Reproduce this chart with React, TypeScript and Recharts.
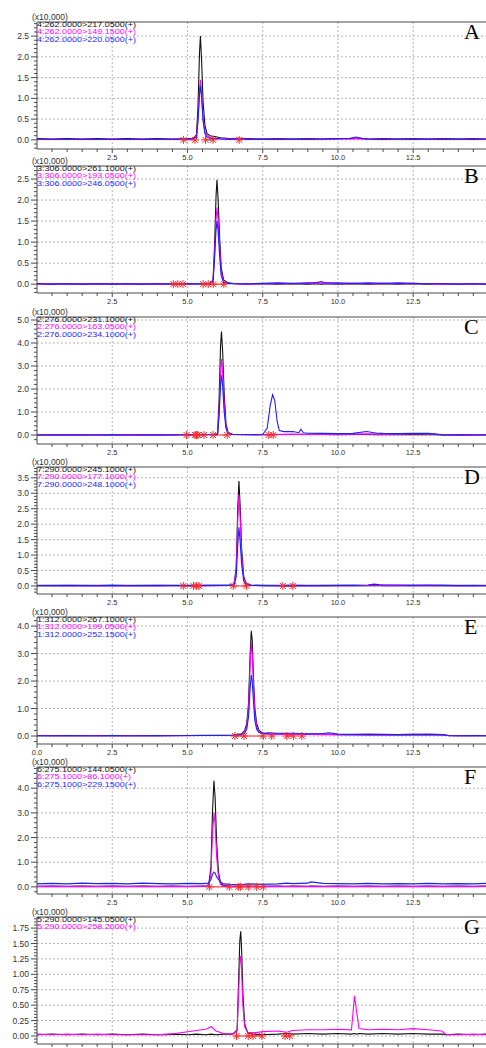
import React from 'react';
import { ComposedChart, Line, XAxis, YAxis, CartesianGrid, ReferenceLine } from 'recharts';

// retention time axis (min)
const X_MAX = 14.92;
const X_TICKS = [0.5, 1, 1.5, 2, 2.5, 3, 3.5, 4, 4.5, 5, 5.5, 6, 6.5, 7, 7.5, 8, 8.5, 9, 9.5, 10, 10.5, 11, 11.5, 12, 12.5, 13, 13.5, 14, 14.5];
const X_TICKS_E = [0, ...X_TICKS];
const X_LABELS = [2.5, 5, 7.5, 10, 12.5];
const X_LABELS_E = [0, 2.5, 5, 7.5, 10, 12.5];
const X_LABELS_G: number[] = []; // labels of the last panel fall below the page

// ---- A ----
const NAMES_A = ['4:262.0000>217.0500(+)', '4:262.0000>149.1500(+)', '4:262.0000>220.0500(+)'];
const T_A = [0, 0.5, 1, 1.5, 2, 2.5, 3, 3.5, 4, 4.5, 5, 5.2, 5.3, 5.35, 5.4, 5.43, 5.47, 5.52, 5.58, 5.65, 5.75, 5.9, 6.1, 6.4, 6.7, 7, 7.5, 8, 8.5, 9, 9.5, 10, 10.4, 10.6, 10.8, 11, 11.5, 12, 12.5, 13, 13.5, 14, 14.5, 14.92];
const K_A = [0.03, 0.02, 0.03, 0.02, 0.03, 0.02, 0.03, 0.02, 0.03, 0.02, 0.03, 0.04, 0.12, 0.8, 2.1, 2.5, 1.9, 0.9, 0.35, 0.15, 0.1, 0.08, 0.05, 0.03, 0.04, 0.03, 0.02, 0.03, 0.02, 0.03, 0.02, 0.03, 0.03, 0.04, 0.03, 0.02, 0.03, 0.02, 0.03, 0.02, 0.03, 0.02, 0.03, 0.02];
const M_A = [0.01, 0.02, 0.01, 0.02, 0.01, 0.02, 0.01, 0.02, 0.01, 0.02, 0.02, 0.03, 0.08, 0.5, 1.2, 1.45, 1.1, 0.5, 0.2, 0.1, 0.06, 0.04, 0.03, 0.02, 0.03, 0.02, 0.01, 0.02, 0.01, 0.02, 0.01, 0.02, 0.02, 0.03, 0.02, 0.01, 0.02, 0.01, 0.02, 0.01, 0.02, 0.01, 0.02, 0.01];
const B_A = [0.02, 0.01, 0.02, 0.01, 0.02, 0.01, 0.02, 0.01, 0.02, 0.01, 0.02, 0.03, 0.06, 0.45, 1.1, 1.3, 1.0, 0.45, 0.15, 0.06, 0.04, 0.03, 0.02, 0.01, 0.02, 0.01, 0.02, 0.01, 0.02, 0.01, 0.02, 0.03, 0.04, 0.07, 0.04, 0.02, 0.01, 0.02, 0.01, 0.02, 0.01, 0.02, 0.01, 0.02];
const MK_A = [4.87, 5.25, 5.6, 5.85, 6.72];
const SEG_A = [[4.87, 5.25], [5.6, 5.85]];
const Y_MAJOR_A = [0, 0.5, 1, 1.5, 2, 2.5];

// ---- B ----
const NAMES_B = ['3:306.0000>261.1000(+)', '3:306.0000>193.0500(+)', '3:306.0000>246.0500(+)'];
const T_B = [0, 0.5, 1, 1.5, 2, 2.5, 3, 3.5, 4, 4.5, 5, 5.5, 5.75, 5.85, 5.9, 5.95, 5.98, 6.02, 6.07, 6.12, 6.2, 6.35, 6.6, 7, 7.5, 8, 8.5, 9, 9.3, 9.45, 9.6, 10, 10.5, 11, 11.5, 12, 12.5, 13, 13.5, 14, 14.5, 14.92];
const K_B = [0.01, 0.0, 0.01, 0.0, 0.01, 0.0, 0.01, 0.0, 0.01, 0.0, 0.01, 0.01, 0.02, 0.1, 0.9, 2.1, 2.48, 2.0, 1.1, 0.4, 0.1, 0.03, 0.01, 0.0, 0.01, 0.0, 0.01, 0.0, 0.01, 0.0, 0.01, 0.0, 0.01, 0.0, 0.01, 0.0, 0.01, 0.0, 0.01, 0.0, 0.01, 0.0];
const M_B = [0.0, 0.01, 0.0, 0.01, 0.0, 0.01, 0.0, 0.01, 0.0, 0.01, 0.0, 0.01, 0.02, 0.08, 0.7, 1.55, 1.82, 1.5, 0.85, 0.3, 0.06, 0.02, 0.01, 0.0, 0.01, 0.02, 0.01, 0.02, 0.03, 0.02, 0.02, 0.01, 0.02, 0.01, 0.02, 0.01, 0.02, 0.01, 0.0, 0.01, 0.0, 0.01];
const B_B = [0.01, 0.0, 0.01, 0.0, 0.01, 0.0, 0.01, 0.0, 0.01, 0.0, 0.01, 0.0, 0.02, 0.06, 0.6, 1.3, 1.5, 1.25, 0.65, 0.2, 0.04, 0.02, 0.01, 0.01, 0.02, 0.03, 0.02, 0.03, 0.04, 0.06, 0.03, 0.03, 0.02, 0.03, 0.02, 0.03, 0.02, 0.01, 0.01, 0.0, 0.01, 0.0];
const MK_B = [4.53, 4.68, 4.85, 5.52, 5.69, 5.86, 6.21];
const SEG_B = [[4.53, 4.85], [5.52, 6.25]];
const Y_MAJOR_B = [0, 0.5, 1, 1.5, 2, 2.5];

// ---- C ----
const NAMES_C = ['2:276.0000>231.1000(+)', '2:276.0000>163.0500(+)', '2:276.0000>234.1000(+)'];
const T_C = [0, 0.5, 1, 1.5, 2, 2.5, 3, 3.5, 4, 4.5, 5, 5.5, 5.9, 6.0, 6.05, 6.1, 6.13, 6.17, 6.22, 6.28, 6.35, 6.5, 7, 7.5, 7.65, 7.75, 7.83, 7.9, 7.98, 8.05, 8.2, 8.5, 8.7, 8.77, 8.85, 9, 9.5, 10, 10.5, 10.95, 11.3, 11.5, 12, 12.5, 13, 13.2, 13.5, 14, 14.5, 14.92];
const K_C = [0.0, 0.01, 0.0, 0.01, 0.0, 0.01, 0.0, 0.01, 0.0, 0.01, 0.01, 0.02, 0.03, 0.05, 1.5, 3.9, 4.5, 3.6, 1.8, 0.5, 0.1, 0.03, 0.02, 0.01, 0.02, 0.02, 0.03, 0.02, 0.02, 0.02, 0.02, 0.02, 0.02, 0.03, 0.02, 0.02, 0.02, 0.01, 0.02, 0.02, 0.01, 0.02, 0.01, 0.02, 0.01, 0.01, 0.0, 0.01, 0.0, 0.01];
const M_C = [0.01, 0.0, 0.01, 0.0, 0.02, 0.0, 0.01, 0.0, 0.01, 0.0, 0.02, 0.01, 0.02, 0.04, 1.0, 2.8, 3.3, 2.7, 1.3, 0.35, 0.08, 0.02, 0.01, 0.02, 0.01, 0.02, 0.02, 0.03, 0.02, 0.03, 0.03, 0.04, 0.03, 0.04, 0.03, 0.03, 0.04, 0.03, 0.04, 0.05, 0.04, 0.03, 0.04, 0.06, 0.05, 0.04, 0.01, 0.0, 0.01, 0.0];
const B_C = [0.0, 0.0, 0.01, 0.0, 0.0, 0.01, 0.0, 0.0, 0.01, 0.0, 0.01, 0.01, 0.02, 0.03, 0.8, 2.2, 2.6, 2.1, 1.0, 0.3, 0.06, 0.02, 0.01, 0.02, 0.3, 1.3, 1.75, 1.5, 0.6, 0.2, 0.15, 0.15, 0.1, 0.25, 0.1, 0.08, 0.07, 0.06, 0.07, 0.15, 0.08, 0.07, 0.06, 0.08, 0.07, 0.05, 0.0, 0.01, 0.0, 0.0];
const MK_C = [4.97, 5.25, 5.3, 5.35, 5.55, 5.85, 6.32, 7.7, 7.85];
const SEG_C = [[4.97, 5.55], [5.85, 6.32], [7.7, 7.85]];
const Y_MAJOR_C = [0, 1, 2, 3, 4, 5];

// ---- D ----
const NAMES_D = ['7:290.0000>245.1000(+)', '7:290.0000>177.1000(+)', '7:290.0000>248.1000(+)'];
const T_D = [0, 0.5, 1, 1.5, 2, 2.5, 3, 3.5, 4, 4.5, 5, 5.5, 6, 6.4, 6.55, 6.62, 6.67, 6.71, 6.75, 6.8, 6.87, 6.95, 7.1, 7.5, 8, 8.5, 9, 9.5, 10, 10.5, 11, 11.2, 11.4, 11.5, 12, 12.5, 13, 13.5, 14, 14.5, 14.92];
const K_D = [0.01, 0.02, 0.01, 0.02, 0.01, 0.02, 0.01, 0.02, 0.01, 0.02, 0.02, 0.02, 0.02, 0.03, 0.05, 0.6, 2.5, 3.4, 2.6, 1.2, 0.3, 0.08, 0.03, 0.02, 0.01, 0.02, 0.01, 0.02, 0.01, 0.02, 0.01, 0.02, 0.01, 0.02, 0.01, 0.02, 0.01, 0.02, 0.01, 0.02, 0.01];
const M_D = [0.02, 0.01, 0.02, 0.01, 0.02, 0.01, 0.02, 0.01, 0.02, 0.01, 0.01, 0.02, 0.01, 0.02, 0.04, 0.5, 2.1, 2.95, 2.2, 1.0, 0.25, 0.06, 0.02, 0.01, 0.02, 0.01, 0.02, 0.01, 0.02, 0.01, 0.02, 0.03, 0.02, 0.01, 0.02, 0.01, 0.02, 0.01, 0.02, 0.01, 0.02];
const B_D = [0.01, 0.01, 0.02, 0.01, 0.01, 0.02, 0.01, 0.01, 0.02, 0.01, 0.01, 0.01, 0.02, 0.02, 0.03, 0.3, 1.3, 1.9, 1.45, 0.7, 0.15, 0.04, 0.02, 0.01, 0.01, 0.02, 0.01, 0.01, 0.02, 0.02, 0.03, 0.06, 0.04, 0.03, 0.03, 0.02, 0.03, 0.02, 0.01, 0.01, 0.01];
const MK_D = [4.86, 5.2, 5.3, 5.38, 6.52, 6.96, 8.17, 8.5];
const SEG_D = [[4.86, 5.38], [6.52, 6.96], [8.17, 8.5]];
const Y_MAJOR_D = [0, 0.5, 1, 1.5, 2, 2.5, 3, 3.5];

// ---- E ----
const NAMES_E = ['1:312.0000>267.1000(+)', '1:312.0000>199.0500(+)', '1:312.0000>252.1500(+)'];
const T_E = [0, 0.5, 1, 1.5, 2, 2.5, 3, 3.5, 4, 4.5, 5, 5.5, 6, 6.5, 6.8, 6.9, 6.97, 7.03, 7.08, 7.12, 7.15, 7.19, 7.24, 7.3, 7.38, 7.5, 7.7, 8, 8.5, 9, 9.5, 9.7, 10, 10.5, 11, 11.5, 12, 12.5, 13, 13.5, 13.7, 14, 14.5, 14.92];
const K_E = [0.01, 0.02, 0.01, 0.02, 0.01, 0.02, 0.01, 0.02, 0.01, 0.02, 0.02, 0.02, 0.03, 0.03, 0.08, 0.2, 0.45, 1.2, 2.9, 3.83, 3.5, 2.2, 1.0, 0.45, 0.2, 0.1, 0.08, 0.07, 0.08, 0.06, 0.07, 0.06, 0.05, 0.05, 0.04, 0.05, 0.04, 0.05, 0.04, 0.04, 0.02, 0.01, 0.02, 0.01];
const M_E = [0.02, 0.01, 0.02, 0.01, 0.02, 0.01, 0.02, 0.01, 0.02, 0.01, 0.01, 0.02, 0.02, 0.03, 0.06, 0.15, 0.35, 1.0, 2.5, 3.4, 3.0, 1.9, 0.8, 0.35, 0.15, 0.08, 0.07, 0.06, 0.07, 0.06, 0.05, 0.06, 0.05, 0.04, 0.05, 0.04, 0.05, 0.06, 0.05, 0.04, 0.01, 0.02, 0.01, 0.02];
const B_E = [0.01, 0.01, 0.02, 0.01, 0.01, 0.02, 0.01, 0.01, 0.02, 0.01, 0.02, 0.03, 0.02, 0.03, 0.05, 0.1, 0.25, 0.7, 1.7, 2.22, 2.0, 1.3, 0.55, 0.25, 0.12, 0.1, 0.12, 0.1, 0.1, 0.08, 0.09, 0.12, 0.07, 0.06, 0.07, 0.06, 0.05, 0.06, 0.07, 0.05, 0.01, 0.01, 0.02, 0.01];
const MK_E = [6.58, 6.88, 7.52, 7.8, 8.3, 8.52, 8.8];
const SEG_E = [[6.58, 7.52], [8.3, 8.52]];
const Y_MAJOR_E = [0, 1, 2, 3, 4];

// ---- F ----
const NAMES_F = ['6:275.1000>144.0500(+)', '6:275.1000>86.1000(+)', '6:275.1000>229.1500(+)'];
const T_F = [0, 0.5, 1, 1.5, 2, 2.5, 3, 3.5, 4, 4.5, 5, 5.5, 5.7, 5.78, 5.83, 5.88, 5.92, 5.97, 6.03, 6.1, 6.2, 6.4, 6.8, 7, 7.5, 8, 8.3, 8.5, 9, 9.1, 9.5, 10, 10.5, 11, 11.5, 12, 12.5, 13, 13.5, 14, 14.5, 14.92];
const K_F = [0.02, 0.03, 0.02, 0.03, 0.02, 0.03, 0.02, 0.03, 0.02, 0.03, 0.02, 0.03, 0.03, 0.8, 3.0, 4.3, 3.6, 1.8, 0.6, 0.15, 0.05, 0.03, 0.02, 0.03, 0.02, 0.03, 0.02, 0.03, 0.02, 0.03, 0.02, 0.03, 0.02, 0.03, 0.02, 0.03, 0.02, 0.03, 0.02, 0.03, 0.02, 0.03];
const M_F = [0.01, 0.02, 0.01, 0.02, 0.01, 0.02, 0.01, 0.02, 0.01, 0.02, 0.01, 0.02, 0.02, 0.5, 2.1, 3.0, 2.5, 1.2, 0.4, 0.1, 0.03, 0.02, 0.01, 0.02, 0.01, 0.02, 0.01, 0.02, 0.01, 0.02, 0.01, 0.02, 0.01, 0.02, 0.01, 0.02, 0.01, 0.02, 0.01, 0.02, 0.01, 0.02];
const B_F = [0.12, 0.14, 0.12, 0.15, 0.13, 0.14, 0.12, 0.15, 0.13, 0.12, 0.14, 0.13, 0.15, 0.3, 0.5, 0.6, 0.55, 0.4, 0.3, 0.2, 0.12, 0.1, 0.08, 0.12, 0.1, 0.12, 0.15, 0.13, 0.15, 0.2, 0.14, 0.13, 0.12, 0.14, 0.12, 0.13, 0.12, 0.14, 0.12, 0.13, 0.12, 0.14];
const MK_F = [5.73, 6.39, 6.69, 6.76, 7.02, 7.3, 7.52];
const SEG_F = [[5.73, 7.52]];
const Y_MAJOR_F = [0, 1, 2, 3, 4];

// ---- G ----
const NAMES_G = ['5:290.0000>145.0500(+)', '5:290.0000>258.2000(+)'];
const T_G = [0, 0.5, 1, 1.5, 2, 2.5, 3, 3.5, 4, 4.3, 4.6, 5, 5.3, 5.6, 5.8, 5.95, 6.2, 6.5, 6.65, 6.7, 6.74, 6.77, 6.8, 6.84, 6.9, 7.0, 7.2, 7.5, 8, 8.3, 8.5, 9, 9.5, 10, 10.45, 10.55, 10.62, 10.7, 11, 11.5, 12, 12.5, 13, 13.45, 13.6, 14, 14.5, 14.92];
const K_G = [0.02, 0.03, 0.02, 0.03, 0.02, 0.03, 0.02, 0.03, 0.02, 0.02, 0.03, 0.02, 0.03, 0.02, 0.03, 0.02, 0.03, 0.03, 0.1, 0.9, 1.55, 1.7, 1.4, 0.7, 0.2, 0.05, 0.03, 0.02, 0.03, 0.04, 0.03, 0.04, 0.03, 0.04, 0.03, 0.04, 0.03, 0.04, 0.03, 0.04, 0.03, 0.04, 0.03, 0.03, 0.02, 0.03, 0.02, 0.03];
const M_G = [0.03, 0.02, 0.03, 0.02, 0.03, 0.02, 0.02, 0.02, 0.02, 0.03, 0.04, 0.07, 0.09, 0.11, 0.15, 0.08, 0.04, 0.03, 0.08, 0.7, 1.2, 1.3, 1.05, 0.5, 0.15, 0.06, 0.05, 0.07, 0.08, 0.06, 0.09, 0.1, 0.1, 0.11, 0.1, 0.65, 0.4, 0.12, 0.1, 0.11, 0.1, 0.12, 0.1, 0.08, 0.02, 0.02, 0.03, 0.02];
const MK_G = [6.63, 7.02, 7.18, 7.47, 8.24, 8.4];
const SEG_G = [[6.63, 7.47], [8.24, 8.4]];
const Y_MAJOR_G = [0, 0.25, 0.5, 0.75, 1, 1.25, 1.5, 1.75];

const COLORS = ['#111111', '#ff00ff', '#1e1eff'];
const RED = '#ff2a2a';
const AXIS = '#4a4a4a';
const SANS = '"Liberation Sans", Arial, sans-serif';

const series = (t: number[], v: number[]) => t.map((x, i) => ({ t: x, v: v[i] }));
const segs = (s: number[][]) => s.flatMap(([a, b]) => [{ t: a, v: 0 }, { t: b, v: 0 }, { t: b, v: null }]);
const marks = (m: number[]) => m.map((x) => ({ t: x, v: 0 }));
const minorTicks = (lo: number, hi: number, step: number) => {
  const out: number[] = [];
  for (let k = Math.ceil(lo / step); k * step <= hi + 1e-9; k++) out.push(+(k * step).toFixed(3));
  return out;
};

const PANELS = [
  { top: 22, letter: 'A', names: NAMES_A, t: T_A, ys: [K_A, M_A, B_A], mk: MK_A, seg: SEG_A, yMin: -0.22, yMax: 2.84, major: Y_MAJOR_A, step: 0.1, dec: 1, xt: X_TICKS, xl: X_LABELS },
  { top: 166, letter: 'B', names: NAMES_B, t: T_B, ys: [K_B, M_B, B_B], mk: MK_B, seg: SEG_B, yMin: -0.21, yMax: 2.81, major: Y_MAJOR_B, step: 0.1, dec: 1, xt: X_TICKS, xl: X_LABELS },
  { top: 317, letter: 'C', names: NAMES_C, t: T_C, ys: [K_C, M_C, B_C], mk: MK_C, seg: SEG_C, yMin: -0.39, yMax: 5.13, major: Y_MAJOR_C, step: 0.2, dec: 1, xt: X_TICKS, xl: X_LABELS },
  { top: 467, letter: 'D', names: NAMES_D, t: T_D, ys: [K_D, M_D, B_D], mk: MK_D, seg: SEG_D, yMin: -0.26, yMax: 3.85, major: Y_MAJOR_D, step: 0.1, dec: 1, xt: X_TICKS, xl: X_LABELS },
  { top: 617, letter: 'E', names: NAMES_E, t: T_E, ys: [K_E, M_E, B_E], mk: MK_E, seg: SEG_E, yMin: -0.29, yMax: 4.33, major: Y_MAJOR_E, step: 0.2, dec: 1, xt: X_TICKS_E, xl: X_LABELS_E },
  { top: 767, letter: 'F', names: NAMES_F, t: T_F, ys: [K_F, M_F, B_F], mk: MK_F, seg: SEG_F, yMin: -0.29, yMax: 4.86, major: Y_MAJOR_F, step: 0.2, dec: 1, xt: X_TICKS, xl: X_LABELS },
  { top: 917, letter: 'G', names: NAMES_G, t: T_G, ys: [K_G, M_G], mk: MK_G, seg: SEG_G, yMin: -0.13, yMax: 1.93, major: Y_MAJOR_G, step: 0.05, dec: 2, xt: X_TICKS, xl: X_LABELS_G },
];

const isIn = (arr: number[], v: number) => arr.some((a) => Math.abs(a - v) < 1e-6);

const Asterisk = (props: any) => {
  const { cx, cy, index } = props;
  if (cx == null || cy == null) return <g key={`mk${index}`} />;
  return (
    <g key={`mk${index}`} stroke={RED} strokeWidth={1}>
      <line x1={cx - 4} y1={cy} x2={cx + 4} y2={cy} />
      <line x1={cx} y1={cy - 4} x2={cx} y2={cy + 4} />
      <line x1={cx - 3} y1={cy - 3} x2={cx + 3} y2={cy + 3} />
      <line x1={cx - 3} y1={cy + 3} x2={cx + 3} y2={cy - 3} />
    </g>
  );
};

function Panel({ p }: { p: (typeof PANELS)[number] }) {
  const yTicks = minorTicks(p.yMin, p.yMax, p.step);
  const xTick = (props: any) => {
    const { x, y, payload } = props;
    const v = payload.value;
    const major = isIn(X_LABELS, v) || v === 0;
    const labelled = isIn(p.xl, v);
    return (
      <g>
        <line x1={x} y1={y} x2={x} y2={y + (major ? 4 : 3)} stroke={AXIS} />
        {labelled && (
          <text x={x} y={y + 11} textAnchor="middle" fontSize={7.5} fontFamily={SANS} fill="#333">
            {v.toFixed(1)}
          </text>
        )}
      </g>
    );
  };
  const yTick = (props: any) => {
    const { x, y, payload } = props;
    const v = payload.value;
    const major = isIn(p.major, v);
    return (
      <g>
        <line x1={x - (major ? 6 : 3)} y1={y} x2={x} y2={y} stroke={AXIS} />
        {major && (
          <text x={x - 8} y={y + 3} textAnchor="end" fontSize={8.5} fontFamily={SANS} fill="#333">
            {v.toFixed(p.dec)}
          </text>
        )}
      </g>
    );
  };

  return (
    <div style={{ position: 'absolute', left: 0, top: p.top - 22, width: 486, height: 165 }}>
      <ComposedChart width={486} height={165} margin={{ top: 22, right: 0, bottom: 0, left: 0 }}>
        <CartesianGrid
          stroke="#b5b5b5"
          strokeDasharray="2 2"
          horizontalValues={p.major}
          verticalValues={X_LABELS}
        />
        <XAxis
          dataKey="t"
          type="number"
          domain={[0, X_MAX]}
          ticks={p.xt}
          interval={0}
          tick={xTick}
          tickLine={false}
          tickSize={0}
          tickMargin={0}
          height={16}
          stroke={AXIS}
          allowDataOverflow
        />
        <YAxis
          type="number"
          domain={[p.yMin, p.yMax]}
          ticks={yTicks}
          interval={0}
          tick={yTick}
          tickLine={false}
          tickSize={0}
          tickMargin={0}
          width={37}
          stroke={AXIS}
          allowDataOverflow
        />
        <ReferenceLine y={p.yMax} stroke={AXIS} strokeWidth={1.2} />
        <Line
          data={segs(p.seg)}
          dataKey="v"
          stroke={RED}
          strokeWidth={1}
          dot={false}
          connectNulls={false}
          isAnimationActive={false}
        />
        {p.ys.map((vals, i) => (
          <Line
            key={i}
            data={series(p.t, vals)}
            dataKey="v"
            type="linear"
            stroke={COLORS[i]}
            strokeWidth={1.1}
            dot={false}
            isAnimationActive={false}
          />
        ))}
        <Line
          data={marks(p.mk)}
          dataKey="v"
          stroke="none"
          dot={Asterisk}
          isAnimationActive={false}
        />
      </ComposedChart>
      <div
        style={{
          position: 'absolute',
          left: 32,
          top: 12.5,
          fontFamily: SANS,
          fontSize: 8.5,
          lineHeight: '8px',
          height: 8,
          color: '#333',
          whiteSpace: 'nowrap',
        }}
      >
        (x10,000)
      </div>
      <div
        style={{
          position: 'absolute',
          left: 37,
          top: 20.5,
          fontFamily: SANS,
          fontSize: 7.5,
          lineHeight: '7.5px',
          whiteSpace: 'nowrap',
          transform: 'scaleX(1.2)',
          transformOrigin: 'left top',
        }}
      >
        {p.names.map((n, i) => (
          <div key={n} style={{ color: COLORS[i], height: 7.5 }}>
            {n}
          </div>
        ))}
      </div>
      <div
        style={{
          position: 'absolute',
          left: 464,
          top: 21,
          fontFamily: '"Liberation Serif", "Times New Roman", serif',
          fontSize: 22,
          lineHeight: '22px',
          color: '#000',
        }}
      >
        {p.letter}
      </div>
    </div>
  );
}

export default function App() {
  return (
    <div style={{ position: 'absolute', left: 0, top: 0, width: 486, height: 1048, background: '#fff', overflow: 'hidden' }}>
      {PANELS.map((p) => (
        <Panel key={p.letter} p={p} />
      ))}
    </div>
  );
}
